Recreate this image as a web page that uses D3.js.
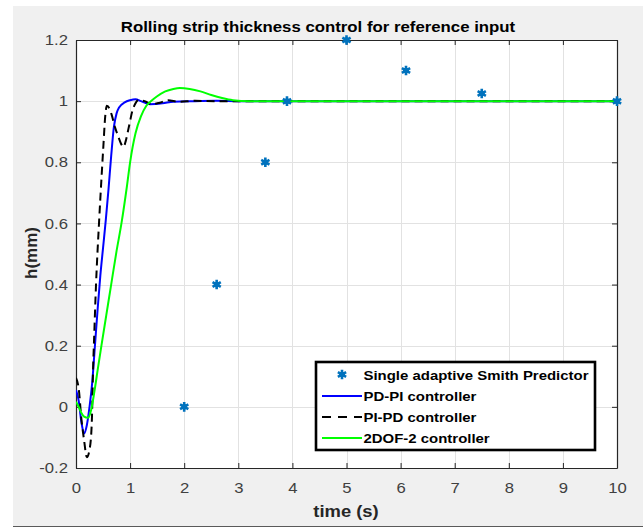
<!DOCTYPE html>
<html>
<head>
<meta charset="utf-8">
<script src="https://cdn.jsdelivr.net/npm/d3@7"></script>
<style>
  html, body { margin: 0; padding: 0; background: #ffffff; }
  svg { display: block; font-family: "Liberation Sans", Arial, Helvetica, sans-serif; }
</style>
</head>
<body>
<svg id="chart" width="643" height="528"></svg>
<script>
// ---- data ----
const xTicks = [0, 1, 2, 3, 4, 5, 6, 7, 8, 9, 10];
const yTicks = [-0.2, 0, 0.2, 0.4, 0.6, 0.8, 1, 1.2];
const yTickLabels = ["-0.2", "0", "0.2", "0.4", "0.6", "0.8", "1", "1.2"];

// Single adaptive Smith Predictor (markers)
const smithT = [2, 2.6, 3.5, 3.9, 5, 6.1, 7.5, 10];
const smithH = [0, 0.4, 0.8, 1.0, 1.2, 1.1, 1.025, 1.0];

// PD-PI controller
const pdpiT = [0, 0.05, 0.1, 0.15, 0.2, 0.25, 0.3, 0.35, 0.4, 0.45, 0.5, 0.55, 0.6, 0.65, 0.7, 0.75, 0.8, 0.9, 1.0, 1.1, 1.2, 1.37, 1.6, 1.8, 2.2, 2.6, 3.0, 10];
const pdpiH = [0.055, 0.02, -0.05, -0.087, -0.06, 0.0, 0.08, 0.2, 0.32, 0.43, 0.52, 0.61, 0.71, 0.82, 0.915, 0.96, 0.98, 0.996, 1.003, 1.006, 1.0, 0.99, 0.993, 0.998, 1.0, 1.001, 1.0, 1.0];

// PI-PD controller
const pipdT = [0, 0.05, 0.1, 0.15, 0.2, 0.25, 0.29, 0.32, 0.33, 0.37, 0.425, 0.475, 0.505, 0.54, 0.57, 0.62, 0.66, 0.72, 0.78, 0.85, 0.88, 0.92, 0.97, 1.0, 1.03, 1.09, 1.15, 1.27, 1.4, 1.55, 1.7, 1.9, 2.2, 2.6, 10];
const pipdH = [0.095, 0.06, -0.04, -0.11, -0.165, -0.14, -0.06, 0.15, 0.2, 0.4, 0.6, 0.76, 0.85, 0.95, 0.985, 0.975, 0.955, 0.915, 0.885, 0.855, 0.85, 0.87, 0.91, 0.935, 0.96, 0.99, 1.003, 1.0, 0.99, 0.995, 1.003, 0.998, 1.001, 1.0, 1.0];

// 2DOF-2 controller
const dofT = [0, 0.05, 0.1, 0.15, 0.22, 0.28, 0.34, 0.4, 0.47, 0.56, 0.65, 0.75, 0.84, 0.94, 1.0, 1.1, 1.2, 1.3, 1.4, 1.5, 1.65, 1.8, 1.92, 2.1, 2.3, 2.5, 2.7, 2.9, 3.2, 10];
const dofH = [0.017, 0.0, -0.02, -0.032, -0.036, -0.01, 0.05, 0.12, 0.2, 0.3, 0.4, 0.51, 0.6, 0.72, 0.8, 0.895, 0.95, 0.985, 1.002, 1.016, 1.032, 1.04, 1.043, 1.04, 1.032, 1.02, 1.01, 1.003, 1.0, 1.0];

const legendLabels = ["Single adaptive Smith Predictor", "PD-PI controller", "PI-PD controller", "2DOF-2 controller"];

// ---- layout ----
const W = 643, H = 528;
const plot = { left: 76, right: 617, top: 40, bottom: 468 };
const SX = 1.15; // horizontal glyph stretch
const axisInk = "#262626";
const tickText = "#404040";

const svg = d3.select("#chart");

// figure background
svg.append("rect").attr("width", W).attr("height", H).attr("fill", "#ffffff");
svg.append("rect").attr("x", 13).attr("y", 6).attr("width", W - 13).attr("height", 520).attr("fill", "#f0f0f0");
svg.append("line").attr("x1", 13).attr("x2", W).attr("y1", 526.5).attr("y2", 526.5)
  .attr("stroke", "#5a5a5a").attr("stroke-width", 1.2);

const x = d3.scaleLinear().domain([0, 10]).range([plot.left, plot.right]);
const y = d3.scaleLinear().domain([-0.2, 1.2]).range([plot.bottom, plot.top]);

// axes background
svg.append("rect")
  .attr("x", plot.left).attr("y", plot.top)
  .attr("width", plot.right - plot.left).attr("height", plot.bottom - plot.top)
  .attr("fill", "#ffffff");

// grid
const grid = svg.append("g").attr("stroke", "#e2e2e2").attr("stroke-width", 1);
grid.selectAll("line.gx").data(xTicks.slice(1, -1)).join("line")
  .attr("x1", d => Math.round(x(d)) + 0.5).attr("x2", d => Math.round(x(d)) + 0.5)
  .attr("y1", plot.top).attr("y2", plot.bottom);
grid.selectAll("line.gy").data(yTicks.slice(1, -1)).join("line")
  .attr("y1", d => Math.round(y(d)) + 0.5).attr("y2", d => Math.round(y(d)) + 0.5)
  .attr("x1", plot.left).attr("x2", plot.right);

// axes: inward ticks on all four sides, labels on bottom and left
function styleAxis(g) {
  g.select(".domain").attr("stroke", axisInk).attr("stroke-width", 1.2);
  g.selectAll(".tick line").attr("stroke", axisInk).attr("stroke-width", 1);
  g.selectAll(".tick text").attr("fill", tickText).attr("font-size", 14.5);
}

const xAxis = svg.append("g")
  .attr("transform", `translate(0,${plot.bottom})`)
  .call(d3.axisBottom(x).tickValues(xTicks).tickFormat(d3.format("d"))
    .tickSizeInner(-5).tickSizeOuter(0).tickPadding(15))
  .call(styleAxis);
xAxis.selectAll(".tick text").attr("transform", `scale(${SX},1)`);

const yAxis = svg.append("g")
  .attr("transform", `translate(${plot.left},0)`)
  .call(d3.axisLeft(y).tickValues(yTicks).tickFormat((d, i) => yTickLabels[i])
    .tickSizeInner(-5).tickSizeOuter(0).tickPadding(7))
  .call(styleAxis);
yAxis.selectAll(".tick text").attr("transform", `scale(${SX},1)`);

svg.append("g")
  .attr("transform", `translate(0,${plot.top})`)
  .call(d3.axisTop(x).tickValues(xTicks).tickFormat("").tickSizeInner(-5).tickSizeOuter(0))
  .call(styleAxis);
svg.append("g")
  .attr("transform", `translate(${plot.right},0)`)
  .call(d3.axisRight(y).tickValues(yTicks).tickFormat("").tickSizeInner(-5).tickSizeOuter(0))
  .call(styleAxis);

// curves
svg.append("clipPath").attr("id", "plotClip").append("rect")
  .attr("x", plot.left).attr("y", plot.top)
  .attr("width", plot.right - plot.left).attr("height", plot.bottom - plot.top);

const line = d3.line().x(d => x(d[0])).y(d => y(d[1])).curve(d3.curveMonotoneX);
const curves = svg.append("g").attr("clip-path", "url(#plotClip)").attr("fill", "none");

const series = [
  { t: pdpiT, h: pdpiH, color: "#0000ff", dash: null },
  { t: pipdT, h: pipdH, color: "#000000", dash: "8,5" },
  { t: dofT, h: dofH, color: "#00ff00", dash: null }
];
series.forEach(s => {
  curves.append("path")
    .datum(s.t.map((t, i) => [t, s.h[i]]))
    .attr("d", line)
    .attr("stroke", s.color)
    .attr("stroke-width", 2)
    .attr("stroke-dasharray", s.dash)
    .attr("stroke-linejoin", "round");
});

// Smith predictor markers: asterisk over a small filled core
const star = d3.symbol().type(d3.symbolAsterisk).size(64);
function drawMarker(g, cx, cy) {
  g.append("circle").attr("cx", cx).attr("cy", cy).attr("r", 2.8).attr("fill", "#0072bd");
  g.append("path")
    .attr("transform", `translate(${cx},${cy})`)
    .attr("d", star)
    .attr("fill", "none")
    .attr("stroke", "#0072bd")
    .attr("stroke-width", 2.6);
}
const marks = svg.append("g");
smithT.forEach((t, i) => drawMarker(marks, x(t), y(smithH[i])));

// title and axis labels
svg.append("text")
  .attr("transform", `translate(318,31.5) scale(1.12,1)`)
  .attr("text-anchor", "middle").attr("font-size", 15).attr("font-weight", "bold").attr("fill", "#000")
  .text("Rolling strip thickness control for reference input");

svg.append("text")
  .attr("transform", `translate(346,517) scale(${SX},1)`)
  .attr("text-anchor", "middle").attr("font-size", 16).attr("font-weight", "bold").attr("fill", "#262626")
  .text("time (s)");

svg.append("text")
  .attr("transform", `translate(37,253) rotate(-90)`)
  .attr("text-anchor", "middle").attr("font-size", 17).attr("font-weight", "bold").attr("fill", "#262626")
  .text("h(mm)");

// legend
const lg = svg.append("g");
lg.append("rect")
  .attr("x", 316).attr("y", 362).attr("width", 279).attr("height", 88)
  .attr("fill", "#ffffff").attr("stroke", "#000000").attr("stroke-width", 2.6);

const baselines = [379.5, 401, 422, 443];
legendLabels.forEach((lab, i) => {
  const cy = baselines[i] - 5;
  if (i === 0) {
    drawMarker(lg, 342, cy);
  } else {
    const s = series[i - 1];
    lg.append("line")
      .attr("x1", 322).attr("x2", 362).attr("y1", cy).attr("y2", cy)
      .attr("stroke", s.color).attr("stroke-width", 2)
      .attr("stroke-dasharray", s.dash ? "9,7" : null);
  }
  lg.append("text")
    .attr("transform", `translate(363.5,${baselines[i]}) scale(${SX},1)`)
    .attr("font-size", 13).attr("font-weight", "bold").attr("fill", "#000")
    .text(lab);
});
</script>
</body>
</html>
